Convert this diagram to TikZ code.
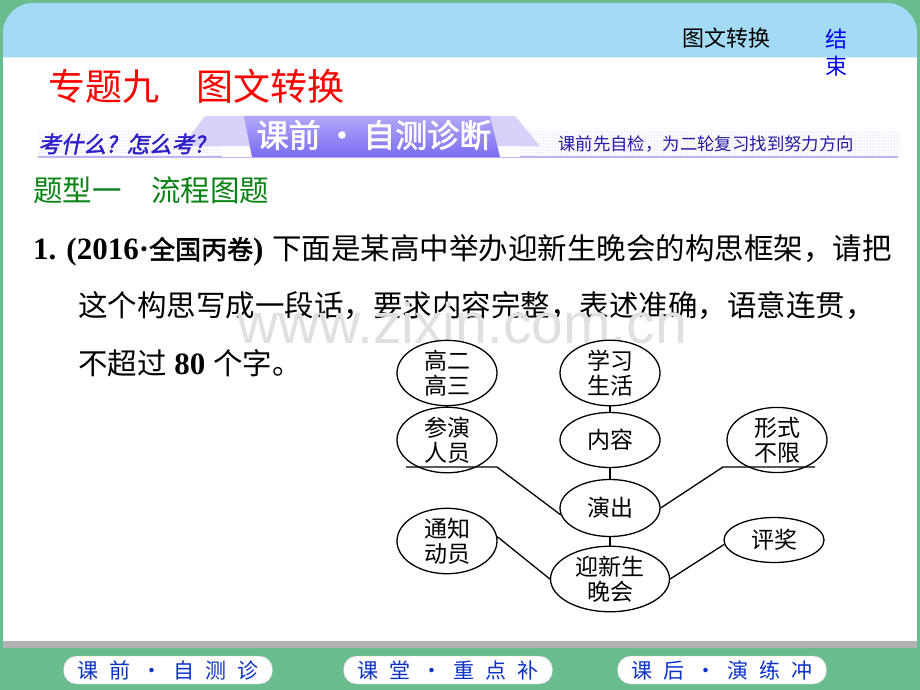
\documentclass[tikz,border=0pt]{standalone}
\usepackage{fontspec}
\setmainfont{Liberation Serif}
\newfontfamily\cjk[AutoFakeBold=2]{Noto Sans CJK SC}
\newfontfamily\wmfont{Liberation Sans}
\usetikzlibrary{shapes.geometric,patterns}

\definecolor{slidegreen}{RGB}{104,188,142}
\definecolor{headblue}{RGB}{163,218,245}
\definecolor{bargray}{RGB}{178,178,178}
\definecolor{titlered}{RGB}{255,0,0}
\definecolor{typegreen}{RGB}{10,130,20}
\definecolor{navblue}{RGB}{10,50,200}
\definecolor{lav}{RGB}{214,210,250}
\definecolor{lavdark}{RGB}{124,108,240}
\definecolor{lavtop}{RGB}{176,168,248}
\definecolor{inkblue}{RGB}{48,32,200}

\tikzset{
  idea/.style={draw, ellipse, line width=1.3pt, fill=white,
    minimum width=100pt, minimum height=60pt, inner sep=0pt,
    align=center, font=\cjk\fontsize{23}{25}\selectfont},
  link/.style={line width=1.3pt},
  navbtn/.style={draw=gray!50, fill=white, rounded corners=13pt,
    minimum width=209pt, minimum height=28pt, inner sep=0pt,
    text=navblue, font=\cjk\fontsize{21}{21}\selectfont},
  bodyline/.style={anchor=west, inner sep=0pt, font=\cjk\fontsize{29.5}{30}\selectfont}
}
\newcommand\navgap{\hspace{11pt}}

\begin{document}
\begin{tikzpicture}[x=1pt,y=-1pt]
\useasboundingbox (0,0) rectangle (920,690);

% slide frame
\fill[slidegreen] (0,0) rectangle (920,690);
\fill[headblue, rounded corners=30pt] (3,90) -- (3,3) -- (917,3) -- (917,90) -- cycle;
\fill[white] (3,57) rectangle (917,641);
\draw[white!70!headblue,line width=1pt] (3,57.5) -- (917,57.5);
\fill[bargray] (3,641) rectangle (917,648);

% header
\node[inner sep=0pt, font=\cjk\fontsize{22}{22}\selectfont] (head) at (726,38) {图文转换};
\node[inner sep=0pt, text=blue, align=center, font=\cjk\fontsize{22}{27}\selectfont] (endbtn) at (836,53) {结\\束};
\node[anchor=west, inner sep=0pt, text=titlered, font=\cjk\fontsize{37}{37}\selectfont] (title) at (48,86) {专题九\hspace{1em}图文转换};

% banner
\fill[pattern=dots, pattern color=lav!80!blue] (38,131) rectangle (900,155);
\draw[lav!70!lavdark, line width=2pt] (38,157) -- (898,157);
\fill[white] (222,117) rectangle (520,157);
\fill[lav] (205,116) -- (515,116) -- (540,146) -- (182,146) -- cycle;
\shade[top color=lavtop, bottom color=lavdark] (244,116) -- (490,116) -- (500,157) -- (252,157) -- cycle;
\node[inner sep=0pt, text=white, font=\cjk\bfseries\fontsize{32}{32}\selectfont] (banner) at (374,135) {课前\,·\,自测诊断};
\node[anchor=west, inner sep=0pt, text=inkblue, xslant=0.2, transform shape,
  font=\cjk\bfseries\fontsize{22.5}{23}\selectfont] (ask) at (40,144) {考什么?\hspace{10pt}怎么考?};
\node[anchor=west, inner sep=0pt, text=inkblue!80!black,
  font=\cjk\fontsize{17.4}{18}\selectfont] (hint) at (558,144) {课前先自检，为二轮复习找到努力方向};

% question
\node[anchor=west, inner sep=0pt, text=typegreen, font=\cjk\fontsize{29.5}{30}\selectfont] (qtype) at (33,190) {题型一\hspace{1em}流程图题};
\node[bodyline] (line1) at (33,250) {{\rmfamily\bfseries\fontsize{31}{31}\selectfont 1.\hspace{10pt}(2016·}{\bfseries\fontsize{26}{26}\selectfont 全国丙卷}{\rmfamily\bfseries\fontsize{31}{31}\selectfont )\hspace{9pt}}下面是某高中举办迎新生晚会的构思框架，请把};
\node[bodyline] (line2) at (78,306) {这个构思写成一段话，要求内容完整，表述准确，语意连贯，};
\node[bodyline] (line3) at (78,363) {不超过{\rmfamily\bfseries\fontsize{31}{31}\selectfont\ 80\ }个字。};

% watermark
\node[inner sep=0pt, text=black!12, font=\wmfont\fontsize{57}{57}\selectfont] (mark) at (462,323) {www.zixin.com.cn};

% diagram
\node[idea] (gaoer) at (447,373) {高二\\高三};
\node[idea] (xuexi) at (610,373) {学习\\生活};
\node[idea, minimum height=55pt] (canyan) at (447,440) {参演\\人员};
\node[idea, minimum height=55pt] (neirong) at (610,440) {内容};
\node[idea, minimum height=55pt] (xingshi) at (777,440) {形式\\不限};
\node[idea, minimum height=57pt] (yanchu) at (610,508) {演出};
\node[idea, minimum height=48pt] (tongzhi) at (447,541) {通知\\动员};
\node[idea, minimum height=45pt] (pingjiang) at (774,540) {评奖};
\node[idea, minimum width=119pt, minimum height=60pt] (yingxin) at (610,579) {迎新生\\晚会};

\coordinate (lend) at (406,467);
\coordinate (lknee) at (497,467);
\coordinate (rend) at (815,467);
\coordinate (rknee) at (723,467);

\draw[link] (gaoer) -- (canyan);
\draw[link] (xuexi) -- (neirong);
\draw[link] (neirong) -- (yanchu);
\draw[link] (yanchu) -- (yingxin);
\draw[link] (lend) -- (lknee) -- (yanchu.188);
\draw[link] (rend) -- (rknee) -- (yanchu.0);
\draw[link] (tongzhi.5) -- (yingxin.180);
\draw[link] (pingjiang.185) -- (yingxin.0);

% navigation
\node[navbtn] (nav1) at (168,670) {课\navgap 前\navgap·\navgap 自\navgap 测\navgap 诊};
\node[navbtn] (nav2) at (448,670) {课\navgap 堂\navgap·\navgap 重\navgap 点\navgap 补};
\node[navbtn] (nav3) at (722,670) {课\navgap 后\navgap·\navgap 演\navgap 练\navgap 冲};
\end{tikzpicture}
\end{document}
